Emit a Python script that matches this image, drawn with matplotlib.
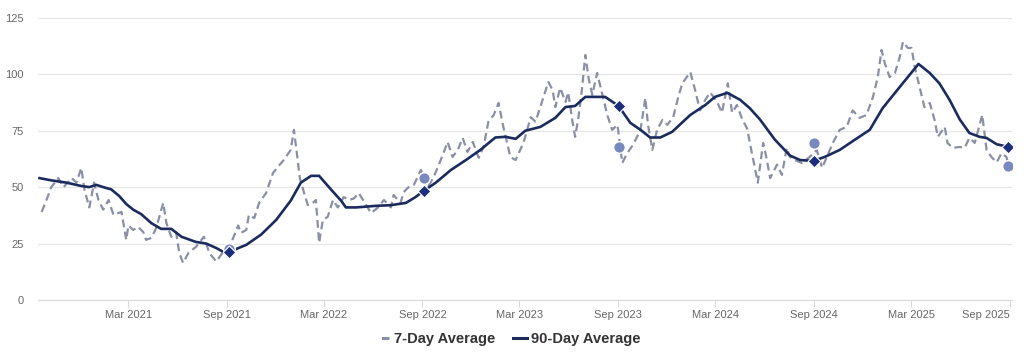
import matplotlib
matplotlib.use("Agg")
import matplotlib.pyplot as plt
import matplotlib.dates as mdates
from matplotlib.lines import Line2D
import pandas as pd

plt.rcParams["font.family"] = ["Liberation Sans", "DejaVu Sans"]

# Series start date; x values below are days after this date
start = pd.Timestamp("2020-09-16")

# 7-day average (days after start, value)
days_7 = [4, 13, 22, 35, 45, 60, 69, 78, 84, 93, 102, 110, 119, 129, 138, 153, 162, 166,
          175, 184, 194, 199, 209, 218, 231, 237, 246, 255, 261, 268, 278, 292, 307, 317,
          330, 345, 354, 371, 376, 386, 391, 401, 410, 423, 436, 445, 456, 469, 475, 481,
          486, 494, 501, 510, 516, 522, 529, 538, 548, 557, 568, 578, 587, 596, 619, 632,
          643, 656, 661, 674, 680, 689, 699, 712, 725, 736, 749, 762, 771, 781, 790, 799,
          809, 820, 829, 838, 848, 857, 866, 879, 889, 904, 917, 926, 941, 950, 958, 963,
          972, 982, 987, 995, 1000, 1006, 1013, 1019, 1025, 1032, 1041, 1051, 1060, 1069,
          1079, 1088, 1097, 1108, 1122, 1131, 1136, 1144, 1153, 1163, 1172, 1183, 1192,
          1200, 1215, 1224, 1233, 1243, 1252, 1265, 1274, 1285, 1293, 1302, 1312, 1321,
          1330, 1341, 1351, 1358, 1364, 1377, 1386, 1395, 1401, 1410, 1423, 1438, 1451,
          1461, 1470, 1481, 1494, 1507, 1518, 1531, 1544, 1556, 1565, 1572, 1578, 1587,
          1597, 1606, 1612, 1621, 1628, 1634, 1643, 1652, 1662, 1671, 1677, 1690, 1695,
          1705, 1718, 1727, 1736, 1746, 1760, 1768, 1777, 1787, 1796, 1805, 1809]
vals_7 = [39, 44.3, 50, 54, 50, 54, 52, 58.5, 48.8, 41, 52, 44.3, 40, 44.3, 37.7, 39, 26.6, 33,
          31, 32.4, 30, 26.6, 27.5, 32, 43, 34, 28, 30, 20.8, 16.4, 20.8, 23.5, 28, 20.8,
          17, 22, 23, 33, 29.7, 31, 37.7, 36.3, 43, 47.4, 56.3, 59, 62, 66.5, 75.4, 64,
          54, 47.4, 42, 43, 44.3, 25.3, 35.5, 36.8, 44.3, 41, 45.6, 44.3, 45, 47.4, 38.5, 41,
          44.3, 41, 46.5, 43, 47.8, 50, 51, 57.6, 50, 54.5, 62, 70, 63.4, 66.5, 71.8, 65.6,
          70, 63, 67.8, 79, 82, 87.3, 76.7, 63.4, 62, 70, 81, 79, 90, 96.6, 93, 85.5,
          94, 87.8, 92, 79, 72.3, 80.7, 94, 108.6, 98.4, 90.9, 100.6, 90.9, 82, 75.4,
          77.6, 60.7, 65, 68.7, 75.4, 89.5, 77.6, 66.5, 75.4, 79.8, 77.6, 81, 89.5,
          96, 101, 93, 84, 88.7, 92, 87.8, 83, 96, 83, 86.4, 80, 76,
          65, 52, 69.6, 62, 54, 60, 55.4, 67.4, 63.4, 62, 60.7, 63.4, 66.5,
          58.5, 63.4, 69.6, 75.4, 76.7, 84, 80.7, 82, 90, 98.8, 110.8, 105, 98.8,
          100.6, 107.7, 114.4, 111.7, 111.7, 103.3, 94.4, 85.5, 87.3, 79.8, 72.3, 76.7, 69.6,
          67.4, 67.8, 67.4, 71.8, 69.6, 82, 66.5, 63.4, 61, 65, 63.4, 60]

# 90-day average (days after start, value)
days_90 = [0, 22, 50, 78, 93, 106, 119, 134, 149, 162, 175, 190, 209, 227, 246, 265, 292,
           311, 330, 343, 354, 386, 414, 442, 469, 488, 507, 522, 544, 563, 572, 591, 628,
           656, 684, 702, 717, 740, 768, 796, 823, 851, 870, 889, 907, 935, 963, 982, 1000,
           1019, 1056, 1081, 1103, 1122, 1140, 1159, 1181, 1215, 1243, 1261, 1284, 1308,
           1326, 1345, 1373, 1401, 1420, 1444, 1466, 1494, 1522, 1550, 1574, 1606, 1641,
           1662, 1680, 1699, 1718, 1736, 1755, 1768, 1787, 1809]
vals_90 = [54, 53, 52, 50.5, 50, 51, 50, 49, 46, 42.5, 40, 38, 34, 31.5, 31.5, 28, 25.7,
           25, 23, 21.3, 21.3, 24.4, 29, 35.5, 44, 52, 55, 55, 49, 44, 41, 41, 41.7,
           42, 43, 45.6, 48.3, 52, 57.6, 62, 66.5, 72, 72.3, 71.4, 75, 76.7, 80.7, 85.5, 86,
           90, 90, 86, 78.5, 75.4, 72, 72, 74.5, 82, 86.4, 90, 91.8, 88.7,
           85, 80, 71, 64, 62, 61.6, 63.4, 66.5, 71, 75.4, 85, 94.4, 104.6,
           100.6, 96, 88.7, 80, 74, 72.3, 71.8, 69, 67.8]

# Year-over-year markers
marker_dates = ["2021-09-04", "2022-09-03", "2023-09-02", "2024-08-31", "2025-08-30"]
marker_7 = [22.5, 54, 68, 69.6, 59.5]
marker_90 = [21.3, 48.3, 86, 61.6, 67.8]

x7 = start + pd.to_timedelta(days_7, unit="D")
x90 = start + pd.to_timedelta(days_90, unit="D")
xm = pd.to_datetime(marker_dates)

c7 = "#8b8fa6"
c90 = "#1c2b5e"

fig = plt.figure(figsize=(10.24, 3.52), dpi=100)
ax = fig.add_axes([0.037, 0.148, 0.951, 0.801])

ax.plot(x7, vals_7, color=c7, lw=1.6, dashes=(3.5, 2), zorder=3)
ax.plot(x90, vals_90, color=c90, lw=1.9, zorder=4)
ax.scatter(xm, marker_7, s=70, color="#7a89bd", edgecolor="white", linewidth=1, zorder=5)
ax.scatter(xm, marker_90, s=42, marker="D", color="#1b2f7c", edgecolor="white",
           linewidth=0.8, zorder=6)

ax.set_ylim(0, 125)
ax.set_yticks([0, 25, 50, 75, 100, 125])
ax.set_xlim(pd.Timestamp("2020-09-13"), pd.Timestamp("2025-09-05"))
ax.xaxis.set_major_locator(mdates.MonthLocator(bymonth=[3, 9]))
ax.xaxis.set_major_formatter(mdates.DateFormatter("%b %Y"))

ax.grid(axis="y", color="#e6e6e6", lw=0.9)
ax.set_axisbelow(True)
for s in ["top", "right", "left"]:
    ax.spines[s].set_visible(False)
ax.spines["bottom"].set_color("#d9d9d9")
ax.tick_params(axis="y", length=0, labelsize=8, labelcolor="#666666", pad=10)
ax.tick_params(axis="x", length=5, color="#d9d9d9", labelsize=8, labelcolor="#666666", pad=2)

fig.canvas.draw()
ax.get_xticklabels()[-1].set_horizontalalignment("right")

handles = [Line2D([], [], color=c7, lw=2.2, linestyle=(10.6, (2.7, 10))),
           Line2D([], [], color=c90, lw=2.2)]
fig.legend(handles, ["7-Day Average", "90-Day Average"], loc="center",
           bbox_to_anchor=(0.496, 0.037), ncol=2, frameon=False, handlelength=1.0,
           handletextpad=0.3, columnspacing=1.2,
           prop={"weight": "bold", "size": 10.5}, labelcolor="#333333")

fig.savefig("out.png", dpi=100)
